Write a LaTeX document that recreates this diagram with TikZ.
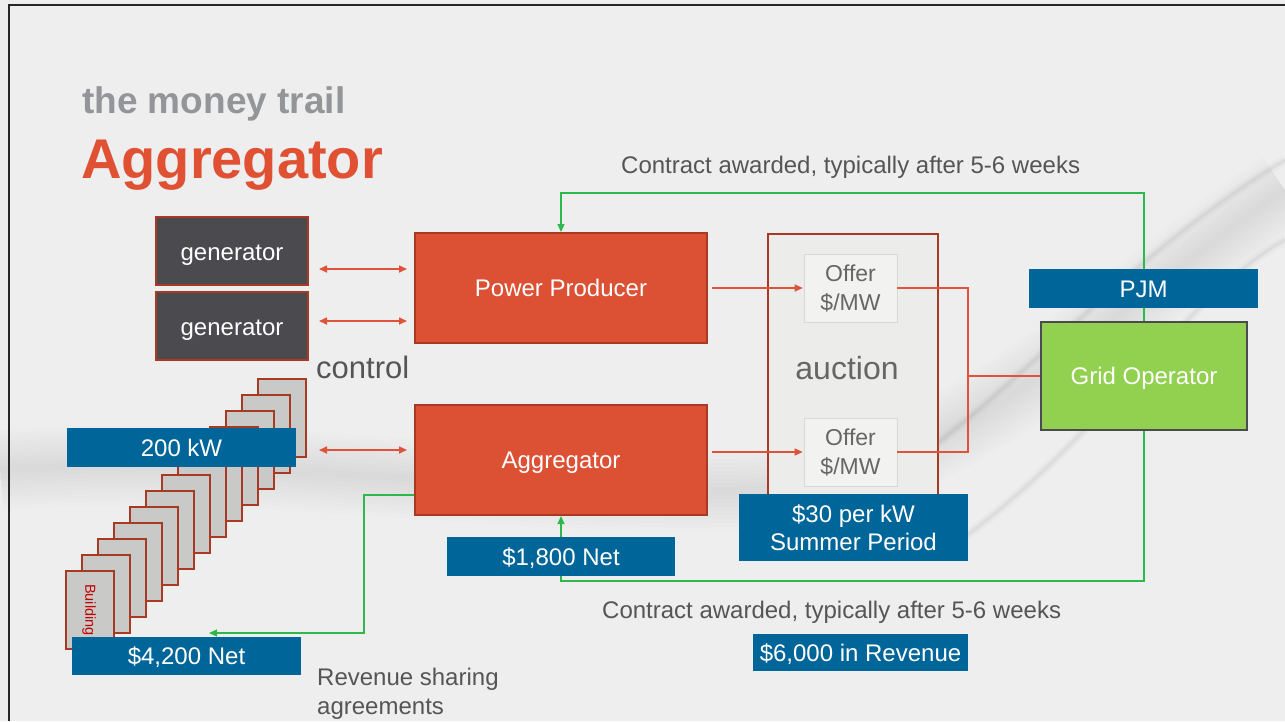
\documentclass[tikz,border=0pt]{standalone}
\usepackage{fontspec}
\setmainfont{Liberation Sans}
\usetikzlibrary{arrows.meta}
\definecolor{bgc}{HTML}{EEEEEE}
\definecolor{brick}{HTML}{DC5034}
\definecolor{brickdark}{HTML}{A83A24}
\definecolor{tagblue}{HTML}{006699}
\definecolor{slate}{HTML}{4A4A4F}
\definecolor{leaf}{HTML}{92D050}
\definecolor{leafedge}{HTML}{4A4A50}
\definecolor{txtgray}{HTML}{555555}
\definecolor{softgray}{HTML}{666666}
\definecolor{titlegray}{HTML}{939598}
\definecolor{titlered}{HTML}{E05133}
\definecolor{flowgreen}{HTML}{2DB84C}
\definecolor{wirered}{HTML}{E0533A}
\definecolor{bldgfill}{HTML}{C9C9C7}
\definecolor{bldgtext}{HTML}{C00000}
\definecolor{auctfill}{HTML}{ECECEA}
\definecolor{offerfill}{HTML}{F2F2F0}
\definecolor{offeredge}{HTML}{D8D8D6}
\pgfdeclarelayer{back}
\pgfdeclarelayer{wires}
\pgfsetlayers{back,wires,main}
\newcommand{\fs}[1]{\fontsize{#1}{#1}\selectfont}
\tikzset{
  box/.style={rectangle, inner sep=0pt, align=center},
  oneline/.style={text height=17pt, text depth=0pt},
  tag/.style={box, fill=tagblue, text=white, font=\fontsize{24}{28}\selectfont},
  redbox/.style={box, oneline, fill=brick, draw=brickdark, line width=2pt, text=white, font=\fs{24}},
  genbox/.style={box, fill=slate, draw=brickdark, line width=2pt, text=white, font=\fs{24}, text height=18.5pt, text depth=0pt},
  bldg/.style={box, fill=bldgfill, draw=brickdark, line width=2.2pt, minimum width=48pt, minimum height=78pt},
  offerbox/.style={box, fill=offerfill, draw=offeredge, line width=0.6pt, text=softgray, font=\fontsize{23}{29}\selectfont},
  gline/.style={draw=flowgreen, line width=1.2pt},
  gtip/.style={-{Triangle[length=8pt,width=7pt]}},
  rline/.style={draw=wirered, line width=1.2pt},
  rtip/.style={-{Triangle[length=8pt,width=7pt]}},
  ctrl/.style={draw=wirered, line width=1.6pt, {Triangle[length=8pt,width=7pt]}-{Triangle[length=8pt,width=7pt]}},
  plain/.style={inner sep=0pt, text=txtgray}
}
\begin{document}
\begin{tikzpicture}[x=1pt,y=-1pt]
\useasboundingbox (0,0) rectangle (1285,721);

% slide background with a soft swoosh
\begin{pgfonlayer}{back}
  \fill[bgc] (0,0) rectangle (1285,721);
  % pale highlight band
  \foreach \w in {12,24,...,120}{
    \draw[line width=\w pt, white, opacity=0.03]
      (0,360) .. controls (300,330) and (520,380) .. (760,400)
      .. controls (980,410) and (1100,200) .. (1285,80);
  }
  % grey shadow band below it
  \foreach \w in {8,16,...,80}{
    \draw[line width=\w pt, black, opacity=0.008]
      (0,470) .. controls (250,450) and (500,500) .. (760,490)
      .. controls (960,480) and (1120,300) .. (1285,190);
  }
  % fine streaks on the right
  \foreach \w/\o in {10/0.015,6/0.02,3/0.03}{
    \draw[line width=\w pt, black, opacity=\o]
      (900,470) .. controls (1020,390) and (1120,260) .. (1285,160);
    \draw[line width=\w pt, black, opacity=\o]
      (960,540) .. controls (1100,440) and (1180,300) .. (1285,240);
  }
  \draw[line width=2pt, black!85] (9,721) -- (9,5) -- (1285,5);
\end{pgfonlayer}

% titles
\node[plain, anchor=base west, text=titlegray, font=\bfseries\fs{37}] (sub) at (82,113) {the money trail};
\node[plain, anchor=base west, text=titlered, font=\bfseries\fs{56}] (ttl) at (81,178) {Aggregator};

% generators and building stack
\node[genbox, minimum width=152pt, minimum height=68pt] (g1) at (232,251) {generator};
\node[genbox, minimum width=152pt, minimum height=68pt] (g2) at (232,326) {generator};
\foreach \i in {12,...,0}{
  \node[bldg] (b\i) at ({90+16*\i},{610-16*\i}) {};
}
\node[plain, rotate=-90, text=bldgtext, font=\fs{14.5}] (bname) at (89,610) {Building};

% main actors
\node[redbox, minimum width=292pt, minimum height=110pt] (pp) at (561,288) {Power Producer};
\node[redbox, minimum width=292pt, minimum height=110pt] (ag) at (561,460) {Aggregator};
\node[box, fill=auctfill, draw=brickdark, line width=2.6pt, minimum width=170pt, minimum height=276pt] (auc) at (853,372) {};
\node[plain, text=softgray, font=\fs{32}] (auctxt) at (847,368) {auction};
\node[offerbox, minimum width=93pt, minimum height=68pt] (o1) at (850.5,288) {Offer\\\$/MW};
\node[offerbox, minimum width=93pt, minimum height=68pt] (o2) at (850.5,452) {Offer\\\$/MW};
\node[box, oneline, fill=leaf, draw=leafedge, line width=2.4pt, minimum width=206pt, minimum height=108pt, text=white, font=\fs{24}] (go) at (1144,376) {Grid Operator};

% free labels
\node[plain, font=\fs{31}, anchor=base west] (ctl) at (316,378) {control};
\node[plain, font=\fs{24}, anchor=base west] (ctop) at (621,173) {Contract awarded, typically after 5-6 weeks};
\node[plain, font=\fs{24}, anchor=base west] (cbot) at (602,618) {Contract awarded, typically after 5-6 weeks};
\node[plain, font=\fontsize{24}{29}\selectfont, anchor=north west, align=left] (rev) at (317,668) {Revenue sharing\\agreements};

% blue tags
\node[tag, oneline, minimum width=229pt, minimum height=39pt] (pjm) at (1143.5,288.5) {PJM};
\node[tag, minimum width=229pt, minimum height=67pt] (price) at (853.5,527.5) {\$30 per kW\\Summer Period};
\node[tag, oneline, minimum width=228pt, minimum height=39pt] (net18) at (561,556.5) {\$1,800 Net};
\node[tag, oneline, minimum width=229pt, minimum height=39pt] (kw) at (181.5,447.5) {200 kW};
\node[tag, oneline, minimum width=229pt, minimum height=38pt] (net42) at (186.5,656) {\$4,200 Net};
\node[tag, oneline, minimum width=215pt, minimum height=37pt] (rev6) at (860.5,652.5) {\$6,000 in Revenue};

% control arrows
\coordinate (c1a) at (319,269); \coordinate (c1b) at (407,269);
\coordinate (c2a) at (319,321); \coordinate (c2b) at (407,321);
\coordinate (c3a) at (319,450); \coordinate (c3b) at (407,450);
\draw[ctrl] (c1a) -- (c1b);
\draw[ctrl] (c2a) -- (c2b);
\draw[ctrl] (c3a) -- (c3b);

% offers into the auction and on to the grid operator
\coordinate (rj) at (968,376);
\draw[rline, rtip] ([xshift=4pt]pp.east) -- ([xshift=-1pt]o1.west);
\draw[rline, rtip] ([xshift=4pt]ag.east |- o2.west) -- ([xshift=-1pt]o2.west);
\draw[rline] (o1.east) -| (rj) |- (o2.east);
\draw[rline] (rj) -- (go.west);

% money flows
\coordinate (gtop) at (1144,193);
\coordinate (gbot) at (1144,581);
\coordinate (gleft) at (364,633);
\coordinate (revtip) at (209,633);
\begin{pgfonlayer}{wires}
  \draw[gline, gtip] (go.north) -- (gtop) -| (pp.north);
  \draw[gline, gtip] (go.south) -- (gbot) -| (ag.south);
  \draw[gline, gtip] ([yshift=-35pt]ag.west) -| (gleft) -- (revtip);
\end{pgfonlayer}
\end{tikzpicture}
\end{document}
